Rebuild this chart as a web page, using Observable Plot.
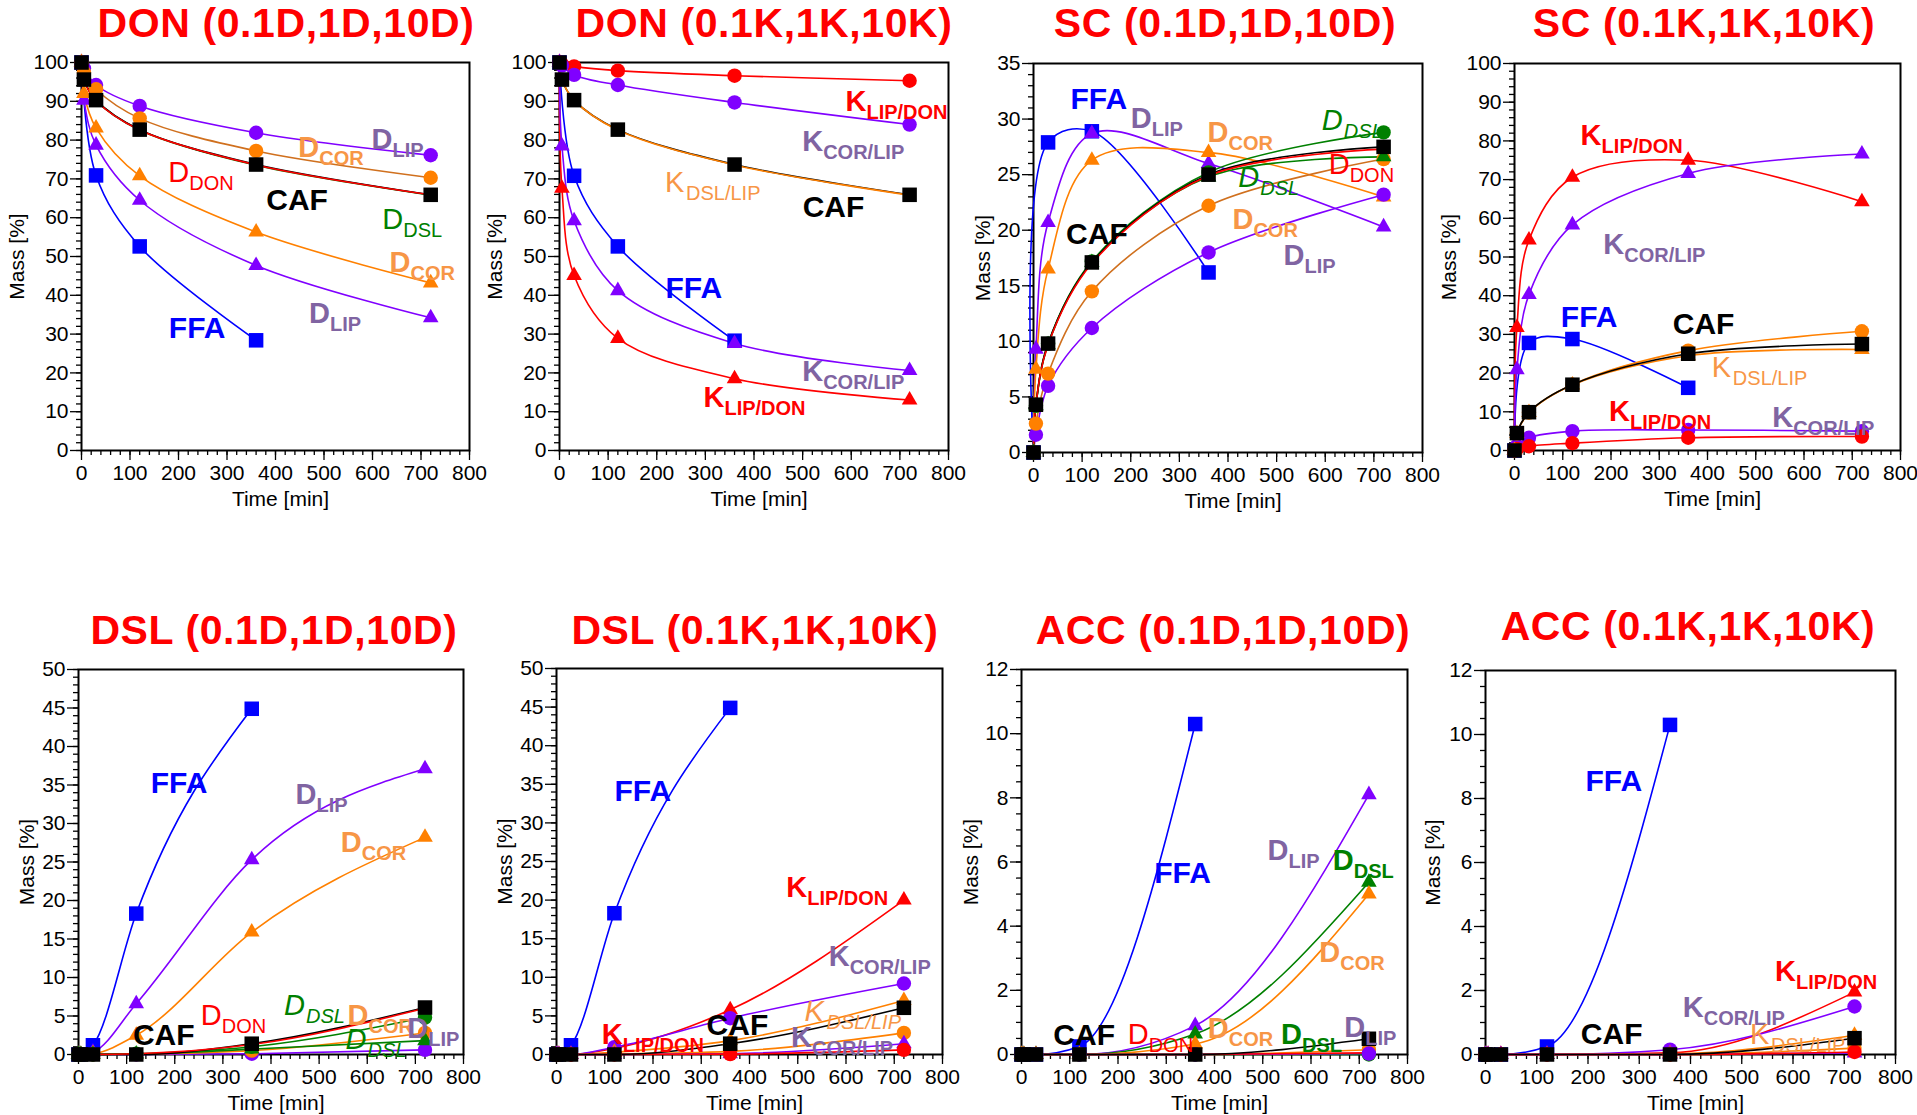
<!DOCTYPE html>
<html><head><meta charset="utf-8">
<script src="https://cdn.jsdelivr.net/npm/d3@7"></script>
<script src="https://cdn.jsdelivr.net/npm/@observablehq/plot@0.6"></script>
<style>
html,body{margin:0;padding:0;background:#fff;overflow:hidden;}
#root{position:relative;width:1917px;height:1115px;font-family:"Liberation Sans",Arial,sans-serif;}
.title{position:absolute;color:#ff0000;font-weight:bold;font-size:41px;line-height:41px;letter-spacing:0.6px;white-space:nowrap;transform:translateX(-50%);font-family:"Liberation Sans",Arial,sans-serif;}
</style></head><body><div id="root"></div>
<script>
// ---------- time points ----------
const T = [0, 5, 30, 120, 360, 720];
const T_FFA = [0, 30, 120, 360];
const xMajorTicks = [0, 100, 200, 300, 400, 500, 600, 700, 800];

// ---------- DON (0.1D,1D,10D) ----------
const donD_FFA  = [100, 70.9, 52.6, 28.4];
const donD_LIPt = [100, 90.3, 78.7, 64.5, 47.7, 34.2];
const donD_CORt = [100, 92.0, 83.1, 70.8, 56.3, 43.2];
const donD_LIPc = [100, 98.5, 94.2, 88.8, 81.9, 76.1];
const donD_CORc = [100, 97.4, 93.1, 85.6, 77.2, 70.3];
const donD_DSL  = [100, 95.6, 90.3, 82.6, 73.5, 65.8];
const donD_CAF  = [100, 95.6, 90.3, 82.7, 73.7, 65.9];
const donD_DON  = [100, 95.5, 90.2, 82.6, 73.6, 65.9];

// ---------- DON (0.1K,1K,10K) ----------
const donK_FFA = [100, 70.8, 52.6, 28.3];
const donK_LDt = [100, 67.6, 45.1, 28.9, 18.5, 13.0];
const donK_CLt = [100, 78.5, 59.2, 41.2, 27.6, 20.6];
const donK_LDc = [100, 99.6, 99.0, 97.9, 96.6, 95.3];
const donK_CLc = [100, 99.2, 96.8, 94.2, 89.7, 84.0];
const donK_CAF = [100, 95.6, 90.3, 82.7, 73.7, 65.9];
const donK_DL  = [100, 95.6, 90.3, 82.6, 73.6, 65.8];

// ---------- SC (0.1D,1D,10D) ----------
const scD_FFA  = [0, 27.9, 28.9, 16.2];
const scD_LIPt = [0, 9.3, 20.7, 28.7, 26.0, 20.3];
const scD_CORt = [0, 7.5, 16.5, 26.3, 27.0, 23.0];
const scD_LIPc = [0, 1.6, 6.0, 11.2, 18.0, 23.2];
const scD_CORc = [0, 2.6, 7.1, 14.5, 22.2, 26.4];
const scD_DSLt = [0, 4.2, 9.7, 17.1, 24.8, 26.6];
const scD_DSLc = [0, 4.2, 9.8, 17.2, 25.2, 28.8];
const scD_CAF  = [0, 4.3, 9.8, 17.1, 25.0, 27.5];
const scD_DON  = [0, 4.3, 9.7, 17.0, 24.9, 27.3];

// ---------- SC (0.1K,1K,10K) ----------
const scK_FFA = [0, 27.8, 28.8, 16.2];
const scK_LDt = [0, 31.8, 54.4, 70.6, 75.0, 64.3];
const scK_CLt = [0, 20.9, 40.3, 58.3, 71.6, 76.6];
const scK_CLc = [0, 1.2, 3.3, 5.0, 5.3, 5.0];
const scK_LDc = [0, 0.4, 1.1, 1.9, 3.3, 3.6];
const scK_DLc = [0, 4.4, 9.8, 17.0, 25.8, 30.8];
const scK_DLt = [0, 4.4, 9.8, 16.9, 24.5, 26.1];
const scK_CAF = [0, 4.5, 9.9, 17.0, 25.0, 27.5];

// ---------- DSL (0.1D,1D,10D) ----------
const dslD_FFA  = [0, 1.2, 18.3, 44.9];
const dslD_LIPt = [0, 0, 0.3, 6.6, 25.3, 37.1];
const dslD_CORt = [0, 0, 0.1, 2.5, 15.9, 28.2];
const dslD_LIPc = [0, 0, 0, 0, 0.1, 0.6];
const dslD_CORc = [0, 0, 0, 0.05, 0.5, 2.8];
const dslD_DSLt = [0, 0, 0, 0.05, 0.7, 1.8];
const dslD_DSLc = [0, 0, 0, 0.1, 1.0, 4.8];
const dslD_CAF  = [0, 0, 0, 0, 1.4, 6.1];
const dslD_DON  = [0, 0, 0, 0.1, 1.3, 6.0];

// ---------- DSL (0.1K,1K,10K) ----------
const dslK_FFA = [0, 1.2, 18.3, 44.9];
const dslK_LDt = [0, 0, 0, 0.8, 5.8, 20.0];
const dslK_CLc = [0, 0, 0, 0.95, 4.7, 9.2];
const dslK_DLt = [0, 0, 0, 0.3, 1.8, 7.0];
const dslK_DLc = [0, 0, 0, 0.05, 0.4, 2.8];
const dslK_CLt = [0, 0, 0, 0, 0.1, 1.4];
const dslK_LDc = [0, 0, 0, 0, 0.05, 0.6];
const dslK_CAF = [0, 0, 0, 0, 1.4, 6.05];

// ---------- ACC (0.1D,1D,10D) ----------
const accD_FFA  = [0, 0, 0.25, 10.3];
const accD_LIPt = [0, 0, 0, 0, 0.9, 8.1];
const accD_DSLt = [0, 0, 0, 0, 0.64, 5.37];
const accD_CORt = [0, 0, 0, 0, 0.33, 5.0];
const accD_CORc = [0, 0, 0, 0, 0, 0.15];
const accD_DSLc = [0, 0, 0, 0, 0, 0];
const accD_LIPc = [0, 0, 0, 0, 0, 0.03];
const accD_DON  = [0, 0, 0, 0, 0, 0.05];
const accD_CAF  = [0, 0, 0, 0, 0, 0.49];

// ---------- ACC (0.1K,1K,10K) ----------
const accK_FFA = [0, 0, 0.25, 10.3];
const accK_LDt = [0, 0, 0, 0, 0.05, 1.95];
const accK_CLc = [0, 0, 0, 0, 0.15, 1.5];
const accK_DLt = [0, 0, 0, 0, 0.02, 0.6];
const accK_DLc = [0, 0, 0, 0, 0, 0.2];
const accK_CLt = [0, 0, 0, 0, 0, 0.05];
const accK_LDc = [0, 0, 0, 0, 0, 0.08];
const accK_CAF = [0, 0, 0, 0, 0, 0.51];

// ---------- annotation labels: [main, subscript, time, mass, style] ----------
const donD_labels = [
  ["D","LIP",598,77.8,"lip"], ["D","COR",447,75.7,"cor"], ["D","DON",179,69.2,"don"],
  ["CAF","",381,61.9,"caf"], ["D","DSL",620,57.2,"dsl"], ["D","COR",635,46,"cor"],
  ["D","LIP",469,32.8,"lip"], ["FFA","",180,29,"ffa"]];
const donK_labels = [
  ["K","LIP/DON",588,87.4,"kld"], ["K","COR/LIP",499,77.3,"lip"], ["K","DSL/LIP",217,66.5,"kdl"],
  ["CAF","",500,60.3,"caf"], ["FFA","",218,39.2,"ffa"], ["K","COR/LIP",499,18,"lip"],
  ["K","LIP/DON",296,11.2,"kld"]];
const scD_labels = [
  ["FFA","",76,30.9,"ffa"], ["D","LIP",200,29.2,"lip"], ["D","COR",358,27.9,"cor"],
  ["D","DSL",593,29,"dsli"], ["D","DON",607,25.1,"don"], ["D","DSL",421,23.9,"dsli"],
  ["CAF","",67,18.8,"caf"], ["D","COR",409,20.1,"cor"], ["D","LIP",514,16.9,"lip"]];
const scK_labels = [
  ["K","LIP/DON",137,79,"kld"], ["K","COR/LIP",184,50.8,"lip"], ["FFA","",96,31.8,"ffa"],
  ["CAF","",328,30.1,"caf"], ["K","DSL/LIP",409,18.9,"kdl"], ["K","LIP/DON",196,7.7,"kld"],
  ["K","COR/LIP",534,6,"lip"]];
const dslD_labels = [
  ["FFA","",150,33.9,"ffa"], ["D","LIP",451,32.5,"lip"], ["D","COR",545,26.3,"cor"],
  ["D","DSL",427,5.1,"dsli"], ["D","DON",254,3.8,"don"], ["CAF","",113,1.2,"caf"],
  ["D","COR",559,3.8,"cor"], ["D","DSL",555,0.7,"dsli"], ["D","LIP",683,2.2,"lip"]];
const dslK_labels = [
  ["FFA","",120,32.9,"ffa"], ["K","LIP/DON",476,20.4,"kld"], ["K","COR/LIP",564,11.4,"lip"],
  ["K","DSL/LIP",514,4.3,"kdli"], ["CAF","",311,2.5,"caf"], ["K","LIP/DON",94,1.4,"kld"],
  ["K","COR/LIP",486,1.0,"lip"]];
const accD_labels = [
  ["FFA","",275,5.34,"ffa"], ["D","LIP",510,6.07,"lip"], ["D","DSL",645,5.76,"dslb"],
  ["D","COR",617,2.88,"cor"], ["CAF","",66,0.3,"caf"], ["D","DON",220,0.33,"don"],
  ["D","COR",386,0.52,"cor"], ["D","DSL",538,0.33,"dslb"], ["D","LIP",669,0.54,"lip"]];
const accK_labels = [
  ["FFA","",195,8.25,"ffa"], ["K","LIP/DON",565,2.31,"kld"], ["K","COR/LIP",385,1.17,"lip"],
  ["CAF","",186,0.33,"caf"], ["K","DSL/LIP",516,0.33,"kdl"]];

// ---------- styles ----------
const SERIES_STYLE = {
  ffa:  {c:"#0000FF", sym:"square", r:8.2},
  caf:  {c:"#000000", sym:"square", r:8.2},
  redC: {c:"#FF0000", sym:"circle", r:7.2},
  redT: {c:"#FF0000", sym:"triangle", r:5.8},
  purC: {c:"#8000FF", sym:"circle", r:7.2},
  purT: {c:"#8000FF", sym:"triangle", r:5.8},
  orgC: {c:"#FF8000", lc:"#D0701E", sym:"circle", r:7.2},
  orgK: {c:"#FF8000", sym:"circle", r:7.2},
  orgT: {c:"#FF8000", sym:"triangle", r:5.8},
  grnC: {c:"#008000", sym:"circle", r:7.2},
  grnT: {c:"#008000", sym:"triangle", r:5.8},
  redL: {c:"#FF0000", sym:null},
  grnL: {c:"#008000", sym:null},
  orgL: {c:"#FF8000", sym:null}
};
const LABEL_STYLE = {
  ffa:  {c:"#0000FF", w:"bold"},
  caf:  {c:"#000000", w:"bold"},
  lip:  {c:"#8064A2", w:"bold"},
  cor:  {c:"#F79646", w:"bold"},
  don:  {c:"#FF0000", w:"normal"},
  dsl:  {c:"#008000", w:"normal"},
  dsli: {c:"#008000", w:"normal", i:true},
  dslb: {c:"#008000", w:"bold"},
  kld:  {c:"#FF0000", w:"bold"},
  kdl:  {c:"#F79646", w:"normal"},
  kdli: {c:"#F79646", w:"normal", i:true}
};

const S = (t, v, st) => ({t, v, st});
const panels = [
  {title:"DON (0.1D,1D,10D)", tc:[286,38], frame:[81,469,62,450], y:[0,100], yMaj:10, yMin:2, ylOff:58, curve:"catmull-rom",
   labels:donD_labels,
   series:[S(T_FFA,donD_FFA,"ffa"), S(T,donD_LIPt,"purT"), S(T,donD_CORt,"orgT"), S(T,donD_LIPc,"purC"),
           S(T,donD_CORc,"orgC"), S(T,donD_DSL,"grnL"), S(T,donD_CAF,"caf"), S(T,donD_DON,"redL")]},
  {title:"DON (0.1K,1K,10K)", tc:[764,38], frame:[559,948,62,450], y:[0,100], yMaj:10, yMin:2, ylOff:58, curve:"catmull-rom",
   labels:donK_labels,
   series:[S(T_FFA,donK_FFA,"ffa"), S(T,donK_LDt,"redT"), S(T,donK_CLt,"purT"), S(T,donK_LDc,"redC"),
           S(T,donK_CLc,"purC"), S(T,donK_CAF,"caf"), S(T,donK_DL,"orgL")]},
  {title:"SC (0.1D,1D,10D)", tc:[1225,38], frame:[1033,1422,63,452], y:[0,35], yMaj:5, yMin:1, ylOff:44, curve:"catmull-rom",
   labels:scD_labels,
   series:[S(T_FFA,scD_FFA,"ffa"), S(T,scD_LIPt,"purT"), S(T,scD_CORt,"orgT"), S(T,scD_LIPc,"purC"),
           S(T,scD_CORc,"orgC"), S(T,scD_DSLt,"grnT"), S(T,scD_DSLc,"grnC"), S(T,scD_CAF,"caf"), S(T,scD_DON,"redL")]},
  {title:"SC (0.1K,1K,10K)", tc:[1704,38], frame:[1514,1900,63,450], y:[0,100], yMaj:10, yMin:2, ylOff:59, curve:"catmull-rom",
   labels:scK_labels,
   series:[S(T_FFA,scK_FFA,"ffa"), S(T,scK_LDt,"redT"), S(T,scK_CLt,"purT"), S(T,scK_CLc,"purC"),
           S(T,scK_LDc,"redC"), S(T,scK_DLc,"orgK"), S(T,scK_DLt,"orgT"), S(T,scK_CAF,"caf")]},
  {title:"DSL (0.1D,1D,10D)", tc:[274,645], frame:[78,463,669,1054], y:[0,50], yMaj:5, yMin:1, ylOff:45, curve:"monotone-x",
   labels:dslD_labels,
   series:[S(T_FFA,dslD_FFA,"ffa"), S(T,dslD_LIPt,"purT"), S(T,dslD_CORt,"orgT"), S(T,dslD_LIPc,"purC"),
           S(T,dslD_CORc,"orgK"), S(T,dslD_DSLt,"grnT"), S(T,dslD_DSLc,"grnC"), S(T,dslD_CAF,"caf"), S(T,dslD_DON,"redL")]},
  {title:"DSL (0.1K,1K,10K)", tc:[755,645], frame:[556,942,668,1054], y:[0,50], yMaj:5, yMin:1, ylOff:45, curve:"monotone-x",
   labels:dslK_labels,
   series:[S(T_FFA,dslK_FFA,"ffa"), S(T,dslK_LDt,"redT"), S(T,dslK_CLc,"purC"), S(T,dslK_DLt,"orgT"),
           S(T,dslK_DLc,"orgK"), S(T,dslK_CLt,"purT"), S(T,dslK_LDc,"redC"), S(T,dslK_CAF,"caf")]},
  {title:"ACC (0.1D,1D,10D)", tc:[1223,645], frame:[1021,1407,669,1054], y:[0,12], yMaj:2, yMin:0.5, ylOff:44, curve:"monotone-x",
   labels:accD_labels,
   series:[S(T_FFA,accD_FFA,"ffa"), S(T,accD_LIPt,"purT"), S(T,accD_DSLt,"grnT"), S(T,accD_CORt,"orgT"),
           S(T,accD_CORc,"orgK"), S(T,accD_DSLc,"grnC"), S(T,accD_LIPc,"purC"), S(T,accD_DON,"redL"), S(T,accD_CAF,"caf")]},
  {title:"ACC (0.1K,1K,10K)", tc:[1688,641], frame:[1485,1895,670,1054], y:[0,12], yMaj:2, yMin:0.5, ylOff:46, curve:"monotone-x",
   labels:accK_labels,
   series:[S(T_FFA,accK_FFA,"ffa"), S(T,accK_LDt,"redT"), S(T,accK_CLc,"purC"), S(T,accK_DLt,"orgT"),
           S(T,accK_DLc,"orgK"), S(T,accK_CLt,"purT"), S(T,accK_LDc,"redC"), S(T,accK_CAF,"caf")]}
];

function labelMarks(list) {
  const out = [];
  for (const [t, s, x, y, k] of list) {
    const st = LABEL_STYLE[k];
    const d = [{t, s, x, y}];
    const base = {x:"x", y:"y", fill:st.c, fontWeight:st.w, fontStyle: st.i ? "italic" : "normal",
                  textAnchor:"start", lineAnchor:"bottom", fontFamily:"Liberation Sans"};
    if (!s) {
      out.push(Plot.text(d, {...base, text:"t", fontSize:30}));
    } else {
      out.push(Plot.text(d, {...base, text:"t", fontSize:29}));
      out.push(Plot.text(d, {...base, text:"s", fontSize:20, dx: st.i ? 22 : 21, dy:8}));
    }
  }
  return out;
}

const root = document.getElementById("root");
for (const p of panels) {
  const [L, R, T0, B] = p.frame;
  const mL = 90, mR = 22, mT = 15, mB = 65;
  const width = R - L + mL + mR, height = B - T0 + mT + mB;
  const marks = [];
  marks.push(Plot.frame({stroke:"black", strokeWidth:2}));
  marks.push(Plot.axisY(d3.range(p.y[0], p.y[1] + 1e-9, p.yMin), {tickSize:5, tickFormat:() => "", strokeWidth:1.3, label:null}));
  marks.push(Plot.axisY(d3.range(p.y[0], p.y[1] + 1e-9, p.yMaj), {tickSize:11, tickPadding:2, strokeWidth:1.3, label:null, fontSize:21}));
  marks.push(Plot.axisX(d3.range(0, 801, 20), {tickSize:5, tickFormat:() => "", strokeWidth:1.3, label:null}));
  marks.push(Plot.axisX(xMajorTicks, {tickSize:10, tickPadding:5, strokeWidth:1.3, label:null, fontSize:21}));
  marks.push(Plot.text(["Time [min]"], {frameAnchor:"bottom", dy:55, dx:5, textAnchor:"middle", lineAnchor:"bottom", fontSize:21}));
  marks.push(Plot.text(["Mass [%]"], {frameAnchor:"left", rotate:-90, dx:-p.ylOff, textAnchor:"middle", lineAnchor:"bottom", fontSize:21}));
  const rows = p.series.map(s => s.t.map((t, i) => ({t, v:s.v[i]})));
  p.series.forEach((s, i) => {
    const st = SERIES_STYLE[s.st];
    marks.push(Plot.line(rows[i], {x:"t", y:"v", stroke: st.lc || st.c, strokeWidth:1.6, curve:p.curve}));
  });
  p.series.forEach((s, i) => {
    const st = SERIES_STYLE[s.st];
    if (st.sym) marks.push(Plot.dot(rows[i], {x:"t", y:"v", fill:st.c, stroke:"none", r:st.r, symbol:st.sym}));
  });
  marks.push(...labelMarks(p.labels));
  const svg = Plot.plot({
    width, height, marginLeft:mL, marginRight:mR, marginTop:mT, marginBottom:mB,
    x:{domain:[0, 800]}, y:{domain:p.y},
    style:{fontFamily:"Liberation Sans", fontSize:"21px", background:"none", overflow:"visible", color:"black"},
    marks
  });
  svg.style.position = "absolute";
  svg.style.left = (L - mL) + "px";
  svg.style.top = (T0 - mT) + "px";
  svg.style.maxWidth = "none";
  root.appendChild(svg);
  const div = document.createElement("div");
  div.className = "title";
  div.textContent = p.title;
  div.style.left = p.tc[0] + "px";
  div.style.top = (p.tc[1] - 34.7) + "px";
  root.appendChild(div);
}
</script></body></html>
